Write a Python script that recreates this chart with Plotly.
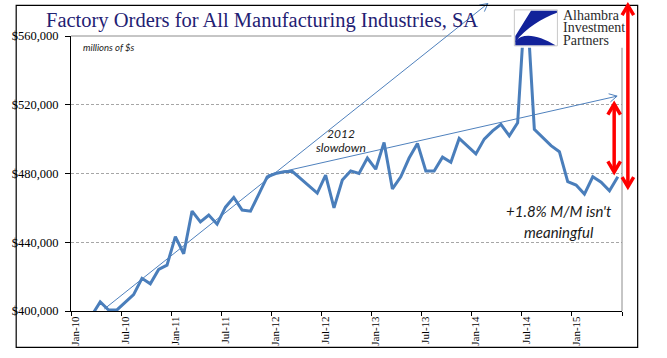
import math
import plotly.graph_objects as go

# ---------------- data (millions of $) ----------------
months_idx = list(range(66))  # Jan-10 .. Jun-15
orders = [
    392000, 395000, 397500, 405300, 400600, 400600, 405000, 409500, 419000, 415800,
    424200, 426700, 443300, 433300, 458100, 451800, 455800, 450500, 460400, 466100,
    458700, 458100, 468000, 478000, 480000, 481000, 481300, 477000, 473000, 468600,
    479000, 460000, 476200, 481500, 480000, 489000, 482500, 498100, 471000, 478100,
    489000, 497500, 481500, 481500, 489500, 486500, 500400, 496000, 491400, 500000,
    504800, 508600, 501900, 509500, 588000, 505700, 501000, 496200, 492700, 475300,
    473300, 468000, 478100, 474900, 469900, 478100,
]
tick_positions = [0, 6, 12, 18, 24, 30, 36, 42, 48, 54, 60]
tick_labels = ["Jan-10", "Jul-10", "Jan-11", "Jul-11", "Jan-12", "Jul-12",
               "Jan-13", "Jul-13", "Jan-14", "Jul-14", "Jan-15"]
y_ticks = [400000, 440000, 480000, 520000, 560000]

# ---------------- geometry helpers (decorations only) ----------------
W, H = 667, 358
L, R, T, B = 59, 622, 36, 315


def xp(px):
    return (px - L) / (R - L)


def yp(py):
    return (B - py) / (B - T)


shapes = []


def seg(x0, y0, x1, y1, color, width):
    shapes.append(dict(type="line", xref="paper", yref="paper",
                       x0=xp(x0), y0=yp(y0), x1=xp(x1), y1=yp(y1),
                       line=dict(color=color, width=width)))


def chevron(tipx, tipy, fromx, fromy, arm, half_deg, color, width):
    dx, dy = tipx - fromx, tipy - fromy
    n = math.hypot(dx, dy)
    bx, by = -dx / n, -dy / n
    a = math.radians(half_deg)
    pts = []
    for s in (1, -1):
        cx = bx * math.cos(s * a) - by * math.sin(s * a)
        cy = bx * math.sin(s * a) + by * math.cos(s * a)
        pts.append((tipx + arm * cx, tipy + arm * cy))
    path = (f"M {xp(pts[0][0])},{yp(pts[0][1])} L {xp(tipx)},{yp(tipy)} "
            f"L {xp(pts[1][0])},{yp(pts[1][1])}")
    shapes.append(dict(type="path", xref="paper", yref="paper", path=path,
                       line=dict(color=color, width=width)))


def poly(path_px, fill):
    out = []
    for tok in path_px:
        if isinstance(tok, str):
            out.append(tok)
        else:
            out.append(f"{xp(tok[0])},{yp(tok[1])}")
    shapes.append(dict(type="path", xref="paper", yref="paper", path=" ".join(out),
                       fillcolor=fill, line=dict(width=0)))


fig = go.Figure()
fig.add_trace(go.Scatter(x=months_idx, y=orders, mode="lines",
                         line=dict(color="#4a7ebb", width=3), hoverinfo="skip"))

# plot frame (top and right are grey)
seg(L, T, R, T, "#8c8c8c", 1)
seg(R, T, R, B, "#8c8c8c", 1)

# trend arrows (thin blue)
BLUE = "#4f81bd"
seg(93, 313, 485, 3, BLUE, 1)
chevron(485, 3, 93, 313, 9, 28, BLUE, 1)
seg(260, 177, 617, 97, BLUE, 1)
chevron(617, 97, 260, 177, 9, 28, BLUE, 1)

# logo background box
shapes.append(dict(type="rect", xref="paper", yref="paper",
                   x0=xp(509), x1=xp(626), y0=yp(48), y1=yp(6),
                   fillcolor="white", line=dict(width=0)))
# logo square
shapes.append(dict(type="rect", xref="paper", yref="paper",
                   x0=xp(512), x1=xp(556), y0=yp(46), y1=yp(9.5),
                   fillcolor="white", line=dict(color="#c8c8c8", width=1)))
LOGO_BLUE = "#12229a"
poly(["M", (529, 10.5), "L", (555.5, 10.5), "L", (555.5, 12.5),
      "C", (540, 18), (524, 28), (513, 42), "L", (513, 36), "Z"], LOGO_BLUE)
poly(["M", (513, 45.5), "L", (513, 41), "C", (521, 32), (537, 35), (554, 45.5), "Z"],
     LOGO_BLUE)

# outer border
shapes.append(dict(type="rect", xref="paper", yref="paper",
                   x0=xp(3), x1=xp(638), y0=yp(352), y1=yp(5),
                   fillcolor="rgba(0,0,0,0)", line=dict(color="black", width=1.2)))

# red double arrows
RED = "#ff0000"
seg(628, 7, 628, 187, RED, 3.5)
chevron(628, 5, 628, 189, 11.5, 31, RED, 3.5)
chevron(628, 189, 628, 5, 11.5, 31, RED, 3.5)
seg(614, 107, 614, 172, RED, 3.5)
chevron(614, 105, 614, 174, 12.5, 31, RED, 3.5)
chevron(614, 174, 614, 105, 12.5, 31, RED, 3.5)

annotations = []


def text(px, py, s, size, family, color="#1a1a1a", anchor="center"):
    annotations.append(dict(xref="paper", yref="paper", x=xp(px), y=yp(py), text=s,
                            showarrow=False, xanchor=anchor, yanchor="middle",
                            borderpad=0, align="left" if anchor == "left" else "center",
                            font=dict(size=size, family=family, color=color)))


text(254, 20, "Factory Orders for All Manufacturing Industries, SA", 20.5,
     "Liberation Serif", "#1f2173")
text(70, 48, "<i>millions of $s</i>", 9.5, "Lato", "#1a1a1a", "left")
text(335, 135, "<i>2012</i>", 12, "Lato")
text(335, 149, "<i>slowdown</i>", 12, "Lato")
text(558, 214, "<i>+1.8% M/M isn't</i>", 15, "Lato")
text(558, 235, "<i>meaningful</i>", 15, "Lato")
logo_lines = ["Alhambra", "Investment", "Partners"]
logo_text = "<br>".join(f'<span style="font-size:14px">{s}</span>' for s in logo_lines)
text(561, 28, logo_text, 9.6, "Liberation Serif", "#2b2b2b", "left")

fig.update_layout(
    width=W, height=H, autosize=False,
    margin=dict(l=L, r=W - R, t=T, b=H - B, pad=0),
    paper_bgcolor="white", plot_bgcolor="white",
    showlegend=False,
    shapes=shapes, annotations=annotations,
    xaxis=dict(
        range=[-0.5, 65.5], showline=True, linecolor="black", linewidth=1,
        tickmode="array", tickvals=tick_positions, ticktext=tick_labels,
        ticks="", tickangle=-90, showgrid=False, zeroline=False,
        tickfont=dict(family="Liberation Serif", size=11, color="black"),
        minor=dict(tickmode="array", tickvals=[p - 0.5 for p in tick_positions] + [65.5],
                   ticks="outside", ticklen=4, tickcolor="black", tickwidth=1,
                   showgrid=False),
    ),
    yaxis=dict(
        range=[400000, 560000], tickmode="array", tickvals=y_ticks,
        tickformat="$,.0f", showline=True, linecolor="black", linewidth=1,
        ticks="outside", ticklen=5, tickcolor="black", ticklabelstandoff=4,
        showgrid=True, gridcolor="#a6a6a6", gridwidth=1, griddash="3px,2px",
        zeroline=False,
        tickfont=dict(family="Liberation Serif", size=12.5, color="black"),
    ),
)

fig.write_html("out.html", config={"displayModeBar": False},
               post_script="document.body.style.margin='0';document.body.style.padding='0';")
